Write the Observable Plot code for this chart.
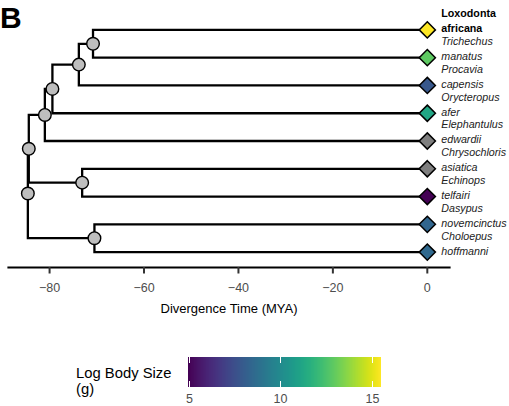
<!DOCTYPE html>
<html>
<head>
<meta charset="utf-8">
<script src="https://cdn.jsdelivr.net/npm/d3@7"></script>
<script src="https://cdn.jsdelivr.net/npm/@observablehq/plot@0.6"></script>
<style>
  body { margin: 0; background: #fff; }
  #wrap { position: relative; width: 509px; height: 406px; overflow: hidden; font-family: "Liberation Sans", Arial, sans-serif; }
  #panel { position: absolute; left: 0px; top: 3px; font-size: 30px; font-weight: bold; line-height: 30px; color: #000; }
  #chart { position: absolute; left: 0; top: 0; }
  #legendTitle { position: absolute; left: 76px; top: 364.5px; font-size: 14.8px; line-height: 16.5px; color: #000; }
  #legend { position: absolute; left: 178px; top: 357px; }
</style>
</head>
<body>
<div id="wrap">
  <div id="chart"></div>
  <div id="panel">B</div>
  <div id="legendTitle">Log Body Size<br>(g)</div>
  <div id="legend"></div>
</div>
<script>
// ---- data ----
const tipGenus = ["Loxodonta", "Trichechus", "Procavia", "Orycteropus", "Elephantulus", "Chrysochloris", "Echinops", "Dasypus", "Choloepus"];
const tipSpecies = ["africana", "manatus", "capensis", "afer", "edwardii", "asiatica", "telfairi", "novemcinctus", "hoffmanni"];
const tipLogBodySize = [15.5, 12.9, 7.8, 11.2, null, null, 4.95, 8.4, 8.5];
const tipParent = ["A", "A", "B", "C", "D", "F", "F", "G", "G"];
const nodeId = ["root", "E", "D", "C", "B", "A", "F", "G"];
const nodeParent = [null, "root", "E", "D", "C", "B", "E", "root"];
const nodeTime = [-84.6, -84.4, -81.0, -79.4, -73.8, -70.8, -73.1, -70.5];
const xTicks = [-80, -60, -40, -20, 0];
const xDomain = [-88.7, 4.7];
const xLabel = "Divergence Time (MYA)";
const legendTicks = [5, 10, 15];
const highlightTip = "Loxodonta";

// ---- tree layout ----
const tips = tipGenus.map((g, i) => ({id: g, genus: g, species: tipSpecies[i], size: tipLogBodySize[i], parent: tipParent[i], time: 0, y: i}));
const nodes = nodeId.map((id, i) => ({id, parent: nodeParent[i], time: nodeTime[i]}));
const all = [...tips, ...nodes];
const byId = new Map(all.map(d => [d.id, d]));
function yOf(d) {
  if (d.y !== undefined) return d.y;
  const kids = all.filter(c => c.parent === d.id);
  d.y = d3.mean(kids, yOf);
  return d.y;
}
nodes.forEach(yOf);
const edges = all.filter(d => d.parent).map(d => {
  const p = byId.get(d.parent);
  return {x1: p.time, y1: p.y, x2: d.time, y2: d.y};
});

const font = "'Liberation Sans', Arial, sans-serif";
const labelSize = 10.7;
const chart = Plot.plot({
  width: 509,
  height: 330,
  marginLeft: 8,
  marginRight: 60,
  marginTop: 0,
  marginBottom: 63,
  style: {fontFamily: font, fontSize: "12.5px", background: "transparent", color: "#000"},
  x: {domain: xDomain},
  y: {domain: [0, tips.length - 1], range: [29.4, 251.6], axis: null},
  color: {type: "linear", scheme: "viridis"},
  marks: [
    Plot.link(edges, {x1: "x1", y1: "y1", x2: "x2", y2: "y2", curve: "step-before", stroke: "black", strokeWidth: 2.3, strokeMiterlimit: 10, strokeLinejoin: "miter"}),
    Plot.dot(nodes, {x: "time", y: "y", r: 6.3, fill: "#bebebe", stroke: "black", strokeWidth: 1.4}),
    Plot.dot(tips.filter(d => d.size == null), {x: "time", y: "y", symbol: "diamond2", r: 7.3, fill: "#7f7f7f", stroke: "black", strokeWidth: 1.5}),
    Plot.dot(tips.filter(d => d.size != null), {x: "time", y: "y", symbol: "diamond2", r: 7.3, fill: "size", stroke: "black", strokeWidth: 1.5}),
    Plot.text(tips.filter(d => d.genus !== highlightTip), {x: "time", y: "y", text: "genus", dx: 14, dy: -16, textAnchor: "start", fontStyle: "italic", fontSize: labelSize, fill: "#222"}),
    Plot.text(tips.filter(d => d.genus !== highlightTip), {x: "time", y: "y", text: "species", dx: 14, dy: -1, textAnchor: "start", fontStyle: "italic", fontSize: labelSize, fill: "#222"}),
    Plot.text(tips.filter(d => d.genus === highlightTip), {x: "time", y: "y", text: "genus", dx: 14, dy: -16, textAnchor: "start", fontWeight: "bold", fontSize: labelSize, fill: "#000"}),
    Plot.text(tips.filter(d => d.genus === highlightTip), {x: "time", y: "y", text: "species", dx: 14, dy: -1, textAnchor: "start", fontWeight: "bold", fontSize: labelSize, fill: "#000"}),
    Plot.frame({anchor: "bottom", stroke: "black", strokeWidth: 2.2}),
    Plot.axisX({ticks: xTicks, tickFormat: d3.format("d"), tickSize: 6.5, tickPadding: 9.5, stroke: "#333", strokeWidth: 2, fill: "#4d4d4d", fontSize: 12.5, label: null}),
    Plot.text([xLabel], {frameAnchor: "bottom", text: d => d, dy: 45, fill: "black", fontSize: 13})
  ]
});
document.getElementById("chart").appendChild(chart);

const lg = chart.legend("color", {
  width: 213, height: 49,
  marginLeft: 10, marginRight: 10, marginTop: 0, marginBottom: 19,
  ticks: legendTicks, tickSize: 0, label: null,
  style: {fontFamily: font, fontSize: "12.5px", color: "#4d4d4d", background: "transparent", overflow: "visible"}
});
d3.select(lg).selectAll(".tick line").attr("stroke", "white").attr("stroke-width", 1).attr("stroke-dasharray", "6,18,6");
d3.select(lg).selectAll(".tick text").attr("y", 7.5).attr("fill", "#4d4d4d");
document.getElementById("legend").appendChild(lg);
</script>
</body>
</html>
